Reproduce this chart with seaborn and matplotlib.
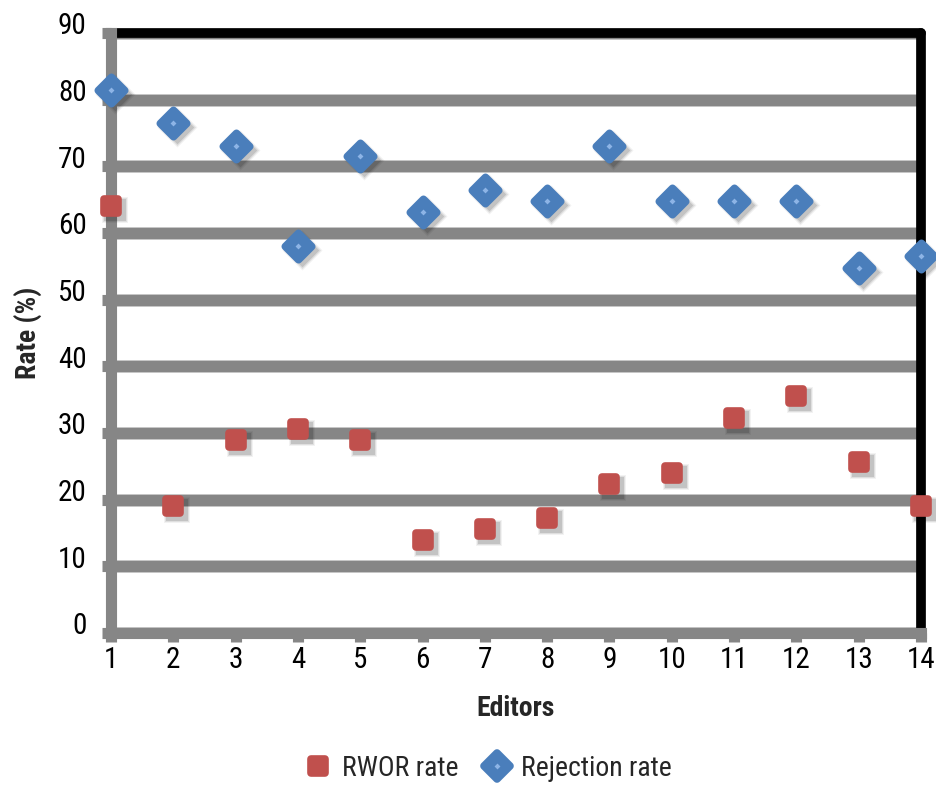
import matplotlib
matplotlib.use("Agg")
import matplotlib.pyplot as plt
import pandas as pd
import seaborn as sns
from matplotlib import font_manager
from matplotlib.lines import Line2D
from matplotlib.markers import MarkerStyle
from matplotlib.transforms import ScaledTranslation
import matplotlib.patheffects as pe

# ---- data -------------------------------------------------------------
editors = list(range(1, 15))
rwor_rate = [64.0, 19.0, 29.0, 30.6, 29.0, 14.0, 15.6, 17.3, 22.3, 24.0,
             32.3, 35.6, 25.6, 19.0]
rejection_rate = [81.5, 76.5, 73.1, 58.1, 71.5, 63.2, 66.5, 64.8, 73.1, 64.8,
                  64.8, 64.8, 54.8, 56.5]
series_names = ["RWOR rate", "Rejection rate"]
y_ticks = list(range(0, 91, 10))

# ---- style ------------------------------------------------------------
RED = "#C0504D"
BLUE = "#4A7EBB"
DOT = "#8DB4E6"
GRID = "#868686"

sns.set_theme(style="white")
available = {f.name for f in font_manager.fontManager.ttflist}
family = next((f for f in ["Liberation Sans Narrow", "Roboto Condensed",
                           "Liberation Sans"] if f in available), "DejaVu Sans")
plt.rcParams["font.family"] = [family, "DejaVu Sans"]

W, H = 937, 788
fig = plt.figure(figsize=(W / 100, H / 100), dpi=100)
left, right, bottom, top = 111, 921, 633, 33
ax = fig.add_axes([left / W, 1 - bottom / H, (right - left) / W, (bottom - top) / H])

df = pd.DataFrame({"editor": editors,
                   series_names[0]: rwor_rate,
                   series_names[1]: rejection_rate})

sq = MarkerStyle("s", joinstyle="round")
dm = MarkerStyle("D", joinstyle="round")

# soft drop shadows, stacked to fake a blur
shadow_layers = [(1.35, 0.05), (1.15, 0.08), (0.95, 0.12)]
for col, marker, base in [(series_names[0], "s", 250), (series_names[1], "D", 310)]:
    for scale, alpha in shadow_layers:
        sns.scatterplot(data=df, x="editor", y=col, marker=marker, s=base * scale,
                        color="black", alpha=alpha, linewidth=0, zorder=5,
                        clip_on=False, legend=False, ax=ax)
        coll = ax.collections[-1]
        coll.set_offset_transform(
            ax.transData + ScaledTranslation(4 / 100, -4 / 100, fig.dpi_scale_trans))

# markers with rounded corners
sns.scatterplot(data=df, x="editor", y=series_names[0], marker=sq, s=110,
                color=RED, edgecolor=RED, linewidth=5.5, joinstyle="round",
                zorder=6, clip_on=False, legend=False, ax=ax)
sns.scatterplot(data=df, x="editor", y=series_names[1], marker=dm, s=180,
                color=BLUE, edgecolor=BLUE, linewidth=5.5, joinstyle="round",
                zorder=6, clip_on=False, legend=False, ax=ax)
sns.scatterplot(data=df, x="editor", y=series_names[1], marker="D", s=9,
                color=DOT, linewidth=0, zorder=7, clip_on=False, legend=False, ax=ax)

# ---- axes -------------------------------------------------------------
ax.set_xlim(1, 14)
ax.set_ylim(0, 90)
ax.set_xticks(editors)
ax.set_yticks(y_ticks)
ax.set_axisbelow(True)
ax.grid(axis="y", color=GRID, linewidth=8, solid_capstyle="butt")
ax.grid(axis="x", visible=False)
for gl in ax.yaxis.get_gridlines():
    gl.set_path_effects([pe.Stroke(linewidth=9.2, foreground="#c4c4c4"), pe.Normal()])

ax.tick_params(axis="both", which="major", direction="out", length=6.5, width=8,
               color=GRID, labelsize=21, labelcolor="black", bottom=True, left=True)
ax.tick_params(axis="y", pad=11)
ax.tick_params(axis="x", pad=3)
for lab in ax.get_yticklabels():
    lab.set_transform(lab.get_transform()
                      + ScaledTranslation(0, 7 / 72, fig.dpi_scale_trans))

for side in ["left", "bottom"]:
    ax.spines[side].set_color(GRID)
    ax.spines[side].set_linewidth(8)
    ax.spines[side].set_capstyle("projecting")
for side in ["top", "right"]:
    ax.spines[side].set_color("black")
    ax.spines[side].set_linewidth(7)
    ax.spines[side].set_capstyle("round")
    ax.spines[side].set_zorder(2.4)
ax.spines["left"].set_zorder(2.6)
ax.spines["bottom"].set_zorder(2.6)

ax.set_xlabel("Editors", fontsize=20, fontweight="bold")
ax.set_ylabel("Rate (%)", fontsize=20, fontweight="bold")
ax.xaxis.set_label_coords(0.5, -0.125)
ax.yaxis.set_label_coords(-0.1025, 0.5)
ax.xaxis.label.set_va("center")
ax.yaxis.label.set_va("center")

# ---- legend -----------------------------------------------------------
h_red = Line2D([], [], ls="none", marker=sq, ms=10, mfc=RED, mec=RED, mew=5.5)
h_blue = Line2D([], [], ls="none", marker=dm, ms=13, mfc=BLUE, mec=BLUE, mew=5.5)
h_dot = Line2D([], [], ls="none", marker="D", ms=3, mfc=DOT, mec=DOT, mew=0)
fig.legend(handles=[h_red, (h_blue, h_dot)], labels=series_names,
           loc="center", bbox_to_anchor=(488 / W, 1 - 768 / H), ncol=2,
           frameon=False, fontsize=20, handletextpad=0.35, columnspacing=0.9,
           handlelength=1.0)

fig.savefig("out.png", dpi=100)
